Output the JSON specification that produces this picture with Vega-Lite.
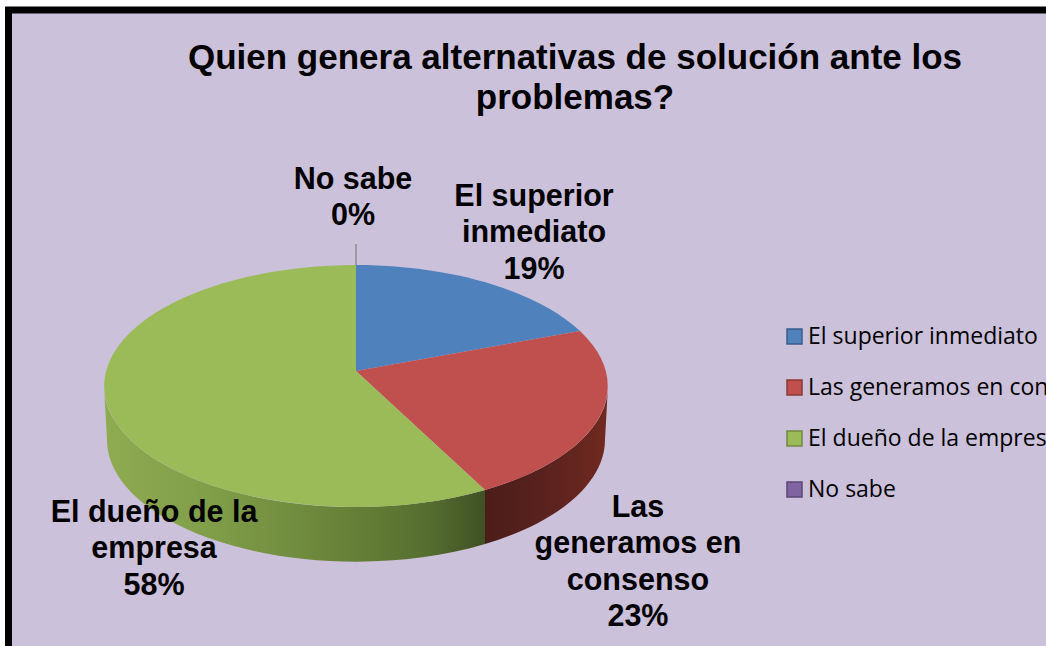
{
  "$schema": "https://vega.github.io/schema/vega-lite/v6.json",
  "autosize": "none",
  "width": 1047,
  "height": 650,
  "padding": {"left": 8.5, "top": 10, "right": -9.5, "bottom": -14},
  "background": "#ffffff",
  "view": {"fill": "#CCC1DA", "stroke": "#000000", "strokeWidth": 7},
  "title": {
    "text": ["Quien genera alternativas de solución ante los", "problemas?"],
    "font": "Liberation Sans",
    "fontWeight": "bold",
    "fontSize": 35,
    "lineHeight": 40,
    "color": "#000000",
    "anchor": "middle",
    "baseline": "middle",
    "dx": 43,
    "dy": 123,
    "offset": 0
  },
  "data": {
    "values": [
      {"slice": "El superior inmediato", "share": 19, "label": "El superior\ninmediato\n19%"},
      {"slice": "Las generamos en consenso", "share": 23, "label": "Las\ngeneramos en\nconsenso\n23%"},
      {"slice": "El dueño de la empresa", "share": 58, "label": "El dueño de la\nempresa\n58%"},
      {"slice": "No sabe", "share": 0, "label": "No sabe\n0%"}
    ]
  },
  "encoding": {
    "x": {"datum": 33.19, "type": "quantitative", "scale": {"domain": [0, 100]}, "axis": null},
    "y": {"datum": 55.54, "type": "quantitative", "scale": {"domain": [100, 0]}, "axis": null}
  },
  "layer": [
    {
      "transform": [{"filter": "datum.slice === 'Las generamos en consenso'"}],
      "mark": {
        "type": "point", "filled": true, "opacity": 1, "size": 4,
        "shape": "M252,15A252,121 0 0 1 129,119L129,173A249,122 0 0 0 249,69Z",
        "fill": {
          "gradient": "linear", "x1": 0, "y1": 0, "x2": 1, "y2": 0,
          "stops": [
            {"offset": 0, "color": "#4A1D19"},
            {"offset": 0.6, "color": "#5E231F"},
            {"offset": 1, "color": "#70291F"}
          ]
        }
      }
    },
    {
      "transform": [{"filter": "datum.slice === 'El dueño de la empresa'"}],
      "mark": {
        "type": "point", "filled": true, "opacity": 1, "size": 4,
        "shape": "M129,119A252,121 0 0 1 -252,15L-249,69A249,122 0 0 0 129,173Z",
        "fill": {
          "gradient": "linear", "x1": 0, "y1": 0, "x2": 1, "y2": 0,
          "stops": [
            {"offset": 0, "color": "#8FAC52"},
            {"offset": 0.3, "color": "#7F9C48"},
            {"offset": 0.6, "color": "#6A853A"},
            {"offset": 0.85, "color": "#566E30"},
            {"offset": 1, "color": "#3F5024"}
          ]
        }
      }
    },
    {
      "mark": {"type": "point", "filled": true, "opacity": 1, "size": 4, "strokeWidth": 0},
      "encoding": {
        "shape": {
          "field": "label", "type": "nominal", "legend": null,
          "scale": {
            "domain": ["El superior\ninmediato\n19%", "Las\ngeneramos en\nconsenso\n23%", "El dueño de la\nempresa\n58%", "No sabe\n0%"],
            "range": [
              "M0,0L0,-106A252,121 0 0 1 224,-40Z",
              "M0,0L224,-40A252,121 0 0 1 129,119Z",
              "M0,0L129,119A252,121 0 1 1 0,-106Z",
              "M0,-106L0,-106Z"
            ]
          }
        },
        "color": {
          "field": "slice", "type": "nominal",
          "scale": {
            "domain": ["El superior inmediato", "Las generamos en consenso", "El dueño de la empresa", "No sabe"],
            "range": ["#4F81BD", "#C0504D", "#9BBB59", "#8064A2"]
          },
          "legend": {
            "orient": "none", "legendX": 774.5, "legendY": 315, "title": null, "padding": 0,
            "symbolType": "square", "symbolSize": 225, "symbolStrokeWidth": 1.5,
            "labelFont": "Open Sans", "labelFontSize": 23, "labelColor": "#000000", "labelLimit": 500, "labelOffset": 2,
            "rowPadding": 27,
            "values": ["El superior inmediato", "Las generamos en consenso", "El dueño de la empresa", "No sabe"]
          }
        },
        "stroke": {
          "field": "slice", "type": "nominal",
          "scale": {
            "domain": ["El superior inmediato", "Las generamos en consenso", "El dueño de la empresa", "No sabe"],
            "range": ["#385D8A", "#8C3836", "#71893F", "#5C4776"]
          }
        },
        "tooltip": {"field": "share", "type": "quantitative"}
      }
    },
    {
      "transform": [{"filter": "datum.slice === 'No sabe'"}],
      "mark": {"type": "point", "filled": false, "opacity": 1, "size": 4, "stroke": "#8C8C8C", "strokeWidth": 1.5, "shape": "M0,-106L0,-127"}
    },
    {
      "transform": [{"filter": "datum.slice === 'No sabe'"}],
      "mark": {"type": "text", "font": "Liberation Sans", "fontWeight": "bold", "fontSize": 30.5, "lineHeight": 36.3, "lineBreak": "\n", "align": "center", "baseline": "middle", "color": "#000000"},
      "encoding": {
        "text": {"field": "label"},
        "x": {"datum": 32.9, "type": "quantitative"},
        "y": {"datum": 26.15, "type": "quantitative"}
      }
    },
    {
      "transform": [{"filter": "datum.slice === 'El superior inmediato'"}],
      "mark": {"type": "text", "font": "Liberation Sans", "fontWeight": "bold", "fontSize": 30.5, "lineHeight": 36.3, "lineBreak": "\n", "align": "center", "baseline": "middle", "color": "#000000"},
      "encoding": {
        "text": {"field": "label"},
        "x": {"datum": 50.19, "type": "quantitative"},
        "y": {"datum": 28.77, "type": "quantitative"}
      }
    },
    {
      "transform": [{"filter": "datum.slice === 'Las generamos en consenso'"}],
      "mark": {"type": "text", "font": "Liberation Sans", "fontWeight": "bold", "fontSize": 30.5, "lineHeight": 36.3, "lineBreak": "\n", "align": "center", "baseline": "middle", "color": "#000000"},
      "encoding": {
        "text": {"field": "label"},
        "x": {"datum": 60.12, "type": "quantitative"},
        "y": {"datum": 76.62, "type": "quantitative"}
      }
    },
    {
      "transform": [{"filter": "datum.slice === 'El dueño de la empresa'"}],
      "mark": {"type": "text", "font": "Liberation Sans", "fontWeight": "bold", "fontSize": 30.5, "lineHeight": 36.3, "lineBreak": "\n", "align": "center", "baseline": "middle", "color": "#000000"},
      "encoding": {
        "text": {"field": "label"},
        "x": {"datum": 13.9, "type": "quantitative"},
        "y": {"datum": 77.38, "type": "quantitative"}
      }
    }
  ]
}
